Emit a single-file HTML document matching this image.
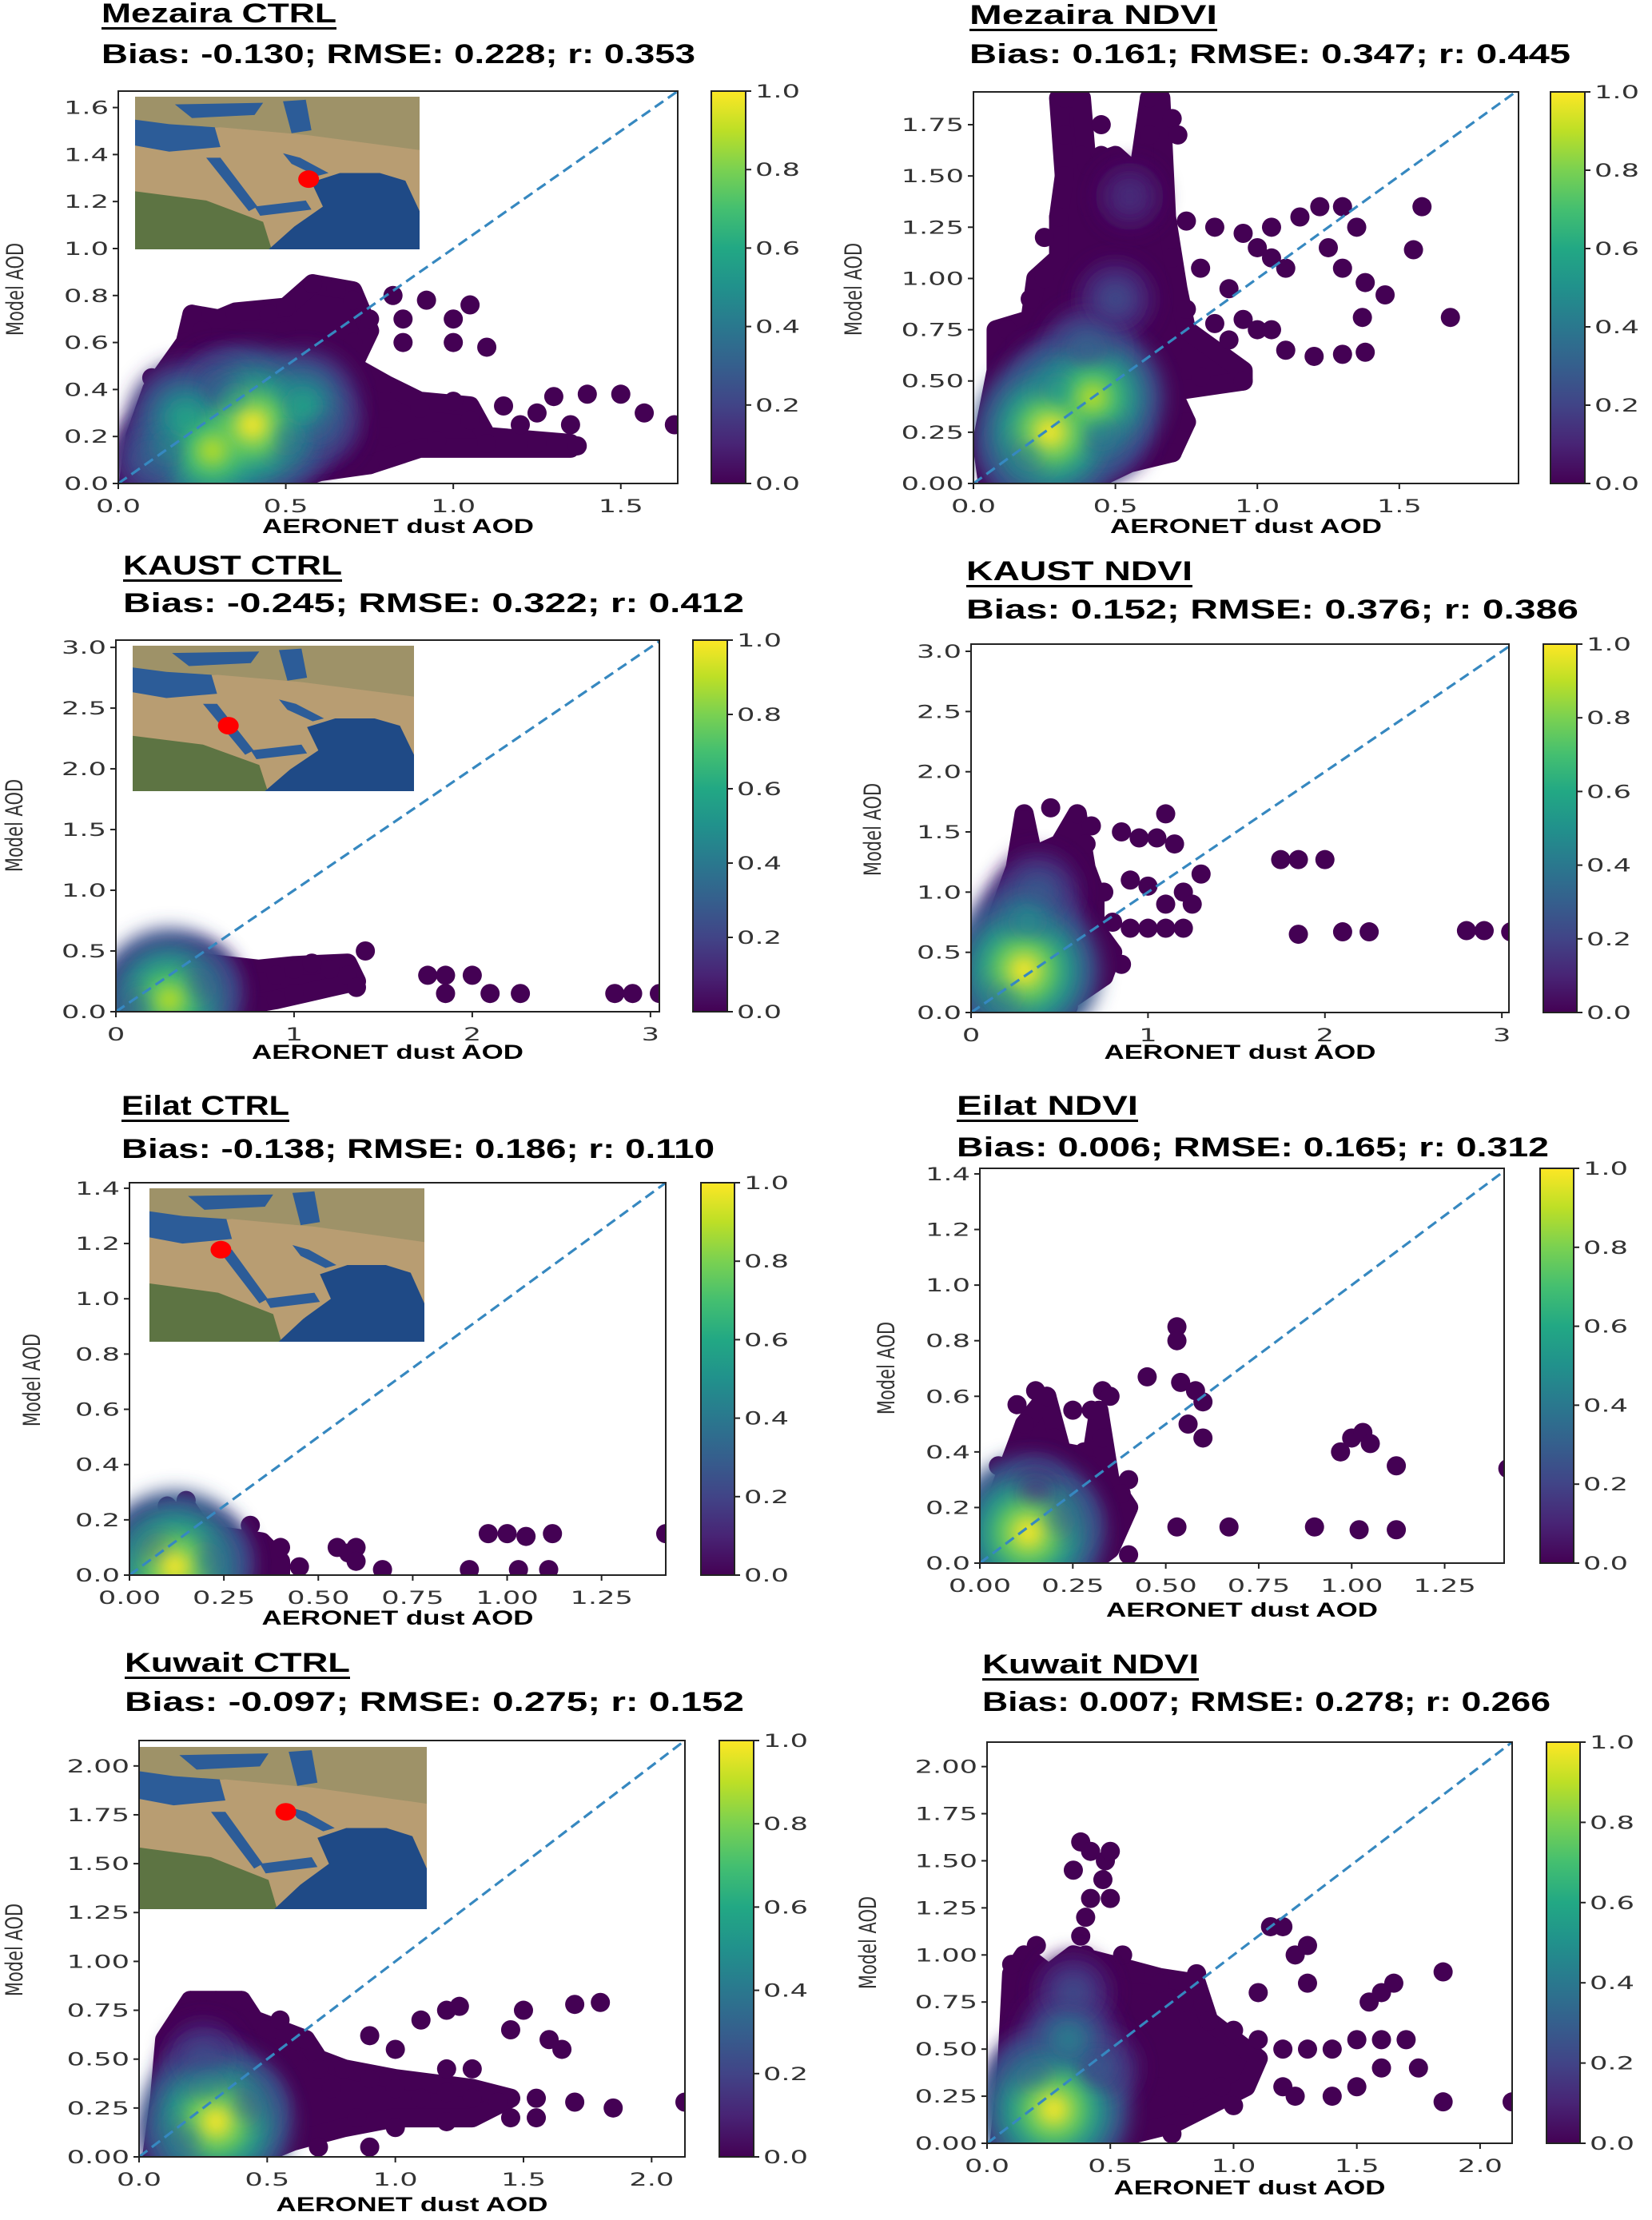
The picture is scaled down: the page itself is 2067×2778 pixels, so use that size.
<!DOCTYPE html>
<html><head><meta charset="utf-8"><title>AOD scatter comparison</title>
<style>html,body{margin:0;padding:0;background:#fff}svg{display:block}</style></head>
<body>
<svg id="fig" xmlns="http://www.w3.org/2000/svg" width="2067" height="2778" viewBox="0 0 2067 2778">
<defs>
<linearGradient id="vir" x1="0" y1="1" x2="0" y2="0">
<stop offset="0" stop-color="#440154"/><stop offset="0.1" stop-color="#482475"/><stop offset="0.2" stop-color="#414487"/><stop offset="0.3" stop-color="#355f8d"/><stop offset="0.4" stop-color="#2a788e"/><stop offset="0.5" stop-color="#21918c"/><stop offset="0.6" stop-color="#22a884"/><stop offset="0.7" stop-color="#44bf70"/><stop offset="0.8" stop-color="#7ad151"/><stop offset="0.9" stop-color="#bddf26"/><stop offset="1" stop-color="#fde725"/>
</linearGradient>
<filter id="blur" x="-1" y="-1" width="3" height="3"><feGaussianBlur stdDeviation="12"/></filter>
</defs>
</svg>
<script>
// ---------- data ----------
const mezCtrlX=[0.1,0.1,0.15,0.2,0.22,0.25,0.3,0.35,0.45,0.5,0.58,0.65,0.7,0.82,0.92,1.05,0.75,0.85,1.0,0.5,0.6,0.7,0.85,1.0,1.1,0.4,0.55,0.65,0.75,0.8,0.9,1.0,1.05,1.15,1.25,1.3,1.4,1.5,1.57,1.2,1.35,1.66,0.8,0.95,1.1,1.25,1.37,0.6,0.7,0.75,0.45,0.3,0.2,0.05,0.1,0.7,0.5,0.35,0.4,0.28,0.55,0.2,0.35,0.15,0.5,0.6,0.3,0.1];
const mezCtrlY=[0.35,0.45,0.5,0.6,0.72,0.65,0.55,0.72,0.72,0.75,0.85,0.83,0.78,0.8,0.78,0.76,0.7,0.7,0.7,0.65,0.6,0.6,0.6,0.6,0.58,0.55,0.5,0.45,0.45,0.35,0.32,0.35,0.27,0.33,0.3,0.37,0.38,0.38,0.3,0.25,0.25,0.25,0.2,0.18,0.17,0.17,0.16,0.1,0.12,0.08,0.05,0.02,0.03,0.1,0.2,0.25,0.45,0.4,0.25,0.14,0.33,0.28,0.35,0.15,0.2,0.25,0.4,0.1];
const mezCtrlD=[0,0,0,0,0,0,0,0,0,0,0,0,0,0,0,0,0,0,0,0,0,0,0,0,0,0,0,0,0,0,0,0,0,0,0,0,0,0,0,0,0,0,0,0,0,0,0,0,0,0,0,0,0,0,0,0,0,0,1.0,0.9,0.6,0.6,0.5,0.45,0.45,0.3,0.3,0.3];
const mezCtrlHullX=[0.03,0.05,0.1,0.2,0.22,0.3,0.35,0.5,0.58,0.7,0.75,0.7,0.8,0.9,1.05,1.1,1.35,1.35,0.9,0.75,0.6,0.5];
const mezCtrlHullY=[0.0,0.2,0.4,0.6,0.72,0.7,0.73,0.75,0.85,0.82,0.65,0.5,0.42,0.35,0.33,0.2,0.17,0.15,0.15,0.08,0.05,0.0];

const mezNdviX=[0.1,0.1,0.12,0.08,0.15,0.2,0.25,0.25,0.3,0.32,0.32,0.32,0.38,0.45,0.45,0.55,0.62,0.62,0.6,0.7,0.72,0.65,0.75,0.85,0.95,1.0,1.05,1.1,0.6,0.7,0.8,0.9,0.75,0.85,0.95,1.0,1.05,0.9,1.1,1.2,1.3,1.38,0.7,0.8,0.95,0.7,0.75,0.65,0.7,0.35,0.2,1.05,1.15,1.22,1.3,1.35,1.25,1.3,1.38,1.45,1.55,1.58,1.37,1.68,0.5,0.4,0.2,0.7,0.27,0.42,0.3,0.4,0.5,0.55,0.2,0.45];
const mezNdviY=[0.3,0.55,0.75,0.15,0.7,0.9,1.0,1.2,1.3,1.5,1.7,1.88,1.6,1.75,1.6,1.45,1.88,1.7,1.5,1.78,1.7,1.3,1.28,1.25,1.22,1.15,1.1,1.05,1.2,1.1,1.05,0.95,0.85,0.78,0.8,0.75,0.75,0.7,0.65,0.62,0.63,0.64,0.55,0.52,0.5,0.4,0.3,0.2,0.15,0.05,0.03,1.25,1.3,1.35,1.35,1.25,1.15,1.05,0.98,0.92,1.14,1.35,0.81,0.81,1.55,1.35,0.4,0.65,0.25,0.42,0.45,0.65,0.9,1.4,0.15,0.25];
const mezNdviD=[0,0,0,0,0,0,0,0,0,0,0,0,0,0,0,0,0,0,0,0,0,0,0,0,0,0,0,0,0,0,0,0,0,0,0,0,0,0,0,0,0,0,0,0,0,0,0,0,0,0,0,0,0,0,0,0,0,0,0,0,0,0,0,0,0,0,0,0,1.0,0.9,0.55,0.35,0.25,0.15,0.45,0.45];
const mezNdviHullX=[0.05,0.03,0.08,0.08,0.2,0.22,0.3,0.3,0.32,0.3,0.38,0.4,0.5,0.58,0.62,0.66,0.68,0.72,0.75,0.95,0.95,0.7,0.75,0.7,0.55,0.4];
const mezNdviHullY=[0.0,0.2,0.55,0.75,0.8,1.0,1.1,1.3,1.5,1.88,1.88,1.55,1.6,1.5,1.88,1.88,1.3,0.95,0.75,0.55,0.5,0.45,0.3,0.15,0.1,0.0];

const kauCtrlX=[0.2,0.3,0.5,0.6,0.7,0.8,0.9,1.0,1.1,1.2,1.3,1.4,1.35,1.0,0.9,0.8,0.6,1.75,1.85,2.0,1.85,2.1,2.27,2.8,2.9,3.05,0.3,0.45,0.15];
const kauCtrlY=[0.3,0.35,0.4,0.3,0.3,0.25,0.3,0.35,0.4,0.35,0.3,0.5,0.2,0.15,0.1,0.05,0.05,0.3,0.3,0.3,0.15,0.15,0.15,0.15,0.15,0.15,0.1,0.2,0.05];
const kauCtrlD=[0,0,0,0,0,0,0,0,0,0,0,0,0,0,0,0,0,0,0,0,0,0,0,0,0,0,0.9,0.35,0.35];
const kauCtrlHullX=[0.0,0.1,0.25,0.5,0.8,1.0,1.3,1.35,1.2,0.9,0.7,0.5];
const kauCtrlHullY=[0.0,0.15,0.35,0.4,0.35,0.38,0.4,0.25,0.2,0.1,0.05,0.0];

const kauNdviX=[0.1,0.2,0.3,0.3,0.25,0.45,0.5,0.55,0.6,0.68,0.65,0.75,0.8,0.9,1.0,1.1,1.2,0.85,0.95,1.05,1.15,1.1,0.9,1.0,1.1,1.2,1.3,1.25,0.85,0.75,0.6,0.55,1.75,1.85,2.0,1.85,2.1,2.25,2.8,2.9,3.05,0.45,0.3,0.32,0.38,0.2];
const kauNdviY=[0.6,1.0,1.6,1.3,1.2,1.2,1.0,1.3,1.65,1.55,1.4,1.0,0.75,0.7,0.7,0.7,0.7,1.5,1.45,1.45,1.4,1.65,1.1,1.05,0.9,1.0,1.15,0.9,0.4,0.3,0.15,0.05,1.27,1.27,1.27,0.65,0.67,0.67,0.68,0.68,0.67,1.7,0.35,0.75,1.0,0.15];
const kauNdviD=[0,0,0,0,0,0,0,0,0,0,0,0,0,0,0,0,0,0,0,0,0,0,0,0,0,0,0,0,0,0,0,0,0,0,0,0,0,0,0,0,0,0,1.0,0.5,0.3,0.45];
const kauNdviHullX=[0.0,0.05,0.15,0.25,0.3,0.35,0.5,0.6,0.65,0.7,0.7,0.8,0.75,0.6,0.5,0.3];
const kauNdviHullY=[0.0,0.4,0.8,1.2,1.65,1.3,1.4,1.65,1.2,1.0,0.7,0.5,0.3,0.15,0.05,0.0];

const eilCtrlX=[0.05,0.1,0.15,0.13,0.18,0.2,0.25,0.32,0.3,0.35,0.4,0.45,0.55,0.58,0.6,0.6,0.67,0.9,1.03,1.11,0.95,1.0,1.05,1.12,1.42,0.3,0.05,0.12,0.2,0.08];
const eilCtrlY=[0.18,0.25,0.27,0.2,0.18,0.13,0.13,0.18,0.08,0.05,0.1,0.03,0.1,0.08,0.1,0.05,0.02,0.02,0.02,0.02,0.15,0.15,0.14,0.15,0.15,0.01,0.05,0.03,0.05,0.08];
const eilCtrlD=[0,0,0,0,0,0,0,0,0,0,0,0,0,0,0,0,0,0,0,0,0,0,0,0,0,0,0,1.0,0.4,0.3];
const eilCtrlHullX=[0.0,0.05,0.1,0.15,0.2,0.35,0.4,0.4];
const eilCtrlHullY=[0.0,0.1,0.2,0.25,0.15,0.12,0.05,0.0];

const eilNdviX=[0.05,0.1,0.12,0.15,0.18,0.2,0.25,0.3,0.33,0.35,0.28,0.3,0.33,0.4,0.38,0.35,0.45,0.53,0.53,0.54,0.58,0.6,0.56,0.6,0.97,1.0,1.03,1.05,1.12,1.42,0.53,0.67,0.9,1.02,1.12,0.4,0.35,0.05,0.13,0.2,0.15];
const eilNdviY=[0.35,0.57,0.5,0.62,0.6,0.45,0.55,0.55,0.62,0.6,0.4,0.35,0.45,0.3,0.25,0.2,0.67,0.85,0.8,0.65,0.62,0.58,0.5,0.45,0.4,0.45,0.47,0.43,0.35,0.34,0.13,0.13,0.13,0.12,0.12,0.03,0.08,0.15,0.11,0.15,0.25];
const eilNdviD=[0,0,0,0,0,0,0,0,0,0,0,0,0,0,0,0,0,0,0,0,0,0,0,0,0,0,0,0,0,0,0,0,0,0,0,0,0,0,1.0,0.35,0.2];
const eilNdviHullX=[0.0,0.05,0.12,0.18,0.22,0.3,0.32,0.35,0.4,0.35,0.3];
const eilNdviHullY=[0.0,0.25,0.5,0.6,0.4,0.38,0.55,0.3,0.2,0.05,0.0];

const kuwCtrlX=[0.12,0.15,0.2,0.3,0.4,0.45,0.5,0.55,0.65,0.6,0.7,0.8,0.75,0.9,1.0,1.1,1.2,1.3,1.4,1.55,1.7,1.85,2.13,1.0,1.1,1.2,1.25,1.45,1.6,1.65,1.5,1.7,1.8,0.9,0.85,1.0,1.2,1.45,1.55,1.2,1.3,0.7,0.9,0.3,0.1,0.1,0.55,0.6,0.5,0.2,0.3,0.27,0.25,0.4,0.2];
const kuwCtrlY=[0.6,0.7,0.8,0.8,0.8,0.7,0.65,0.7,0.6,0.5,0.45,0.45,0.35,0.4,0.35,0.3,0.33,0.3,0.28,0.3,0.28,0.25,0.28,0.55,0.7,0.75,0.77,0.65,0.6,0.55,0.75,0.78,0.79,0.62,0.2,0.15,0.18,0.2,0.2,0.45,0.45,0.05,0.05,0.0,0.3,0.45,0.2,0.3,0.05,0.0,0.18,0.35,0.5,0.25,0.1];
const kuwCtrlD=[0,0,0,0,0,0,0,0,0,0,0,0,0,0,0,0,0,0,0,0,0,0,0,0,0,0,0,0,0,0,0,0,0,0,0,0,0,0,0,0,0,0,0,0,0,0,0,0,0,0,1.0,0.45,0.25,0.35,0.4];
const kuwCtrlHullX=[0.05,0.08,0.1,0.2,0.4,0.45,0.55,0.65,0.7,0.8,1.0,1.3,1.45,1.3,1.0,0.8,0.6,0.45];
const kuwCtrlHullY=[0.0,0.3,0.6,0.8,0.8,0.7,0.65,0.6,0.5,0.45,0.4,0.35,0.3,0.2,0.2,0.15,0.08,0.0];

const kuwNdviX=[0.1,0.1,0.1,0.1,0.15,0.2,0.3,0.4,0.5,0.6,0.7,0.8,0.85,0.9,1.0,1.1,1.2,1.3,1.4,1.5,1.6,1.7,1.75,1.6,1.5,1.4,1.55,1.6,1.65,1.85,1.15,1.2,1.25,1.3,1.3,1.1,0.95,1.0,1.2,1.25,1.85,2.13,0.7,0.8,0.6,0.75,0.4,0.35,0.38,0.42,0.48,0.5,0.47,0.42,0.4,0.38,0.5,0.55,0.27,0.33,0.35,0.45,0.2];
const kuwNdviY=[0.95,0.7,0.5,0.3,0.1,1.05,0.95,1.0,0.95,0.9,0.85,0.75,0.9,0.65,0.6,0.55,0.5,0.5,0.5,0.55,0.55,0.55,0.4,0.4,0.3,0.25,0.75,0.8,0.85,0.91,1.15,1.15,1.0,1.05,0.85,0.8,0.3,0.2,0.3,0.25,0.22,0.22,0.3,0.2,0.1,0.05,0.05,1.45,1.6,1.55,1.5,1.55,1.4,1.3,1.2,1.1,1.3,1.0,0.18,0.55,0.8,0.4,0.35];
const kuwNdviD=[0,0,0,0,0,0,0,0,0,0,0,0,0,0,0,0,0,0,0,0,0,0,0,0,0,0,0,0,0,0,0,0,0,0,0,0,0,0,0,0,0,0,0,0,0,0,0,0,0,0,0,0,0,0,0,0,0,0,1.0,0.45,0.25,0.3,0.4];
const kuwNdviHullX=[0.05,0.08,0.1,0.15,0.25,0.35,0.5,0.7,0.85,0.9,1.0,1.1,1.05,0.9,0.75,0.5,0.3];
const kuwNdviHullY=[0.0,0.4,0.9,1.0,0.9,1.0,0.95,0.88,0.85,0.65,0.55,0.45,0.3,0.2,0.1,0.02,0.0];

const ticks1dp8=["0.0","0.2","0.4","0.6","0.8","1.0","1.2","1.4","1.6"];
const ticksX05=["0.0","0.5","1.0","1.5"];
const ticksY025to175=["0.00","0.25","0.50","0.75","1.00","1.25","1.50","1.75"];
const ticksKx=["0","1","2","3"];
const ticksKy=["0.0","0.5","1.0","1.5","2.0","2.5","3.0"];
const ticksEx=["0.00","0.25","0.50","0.75","1.00","1.25"];
const ticksEy=["0.0","0.2","0.4","0.6","0.8","1.0","1.2","1.4"];
const ticksWx=["0.0","0.5","1.0","1.5","2.0"];
const ticksWy=["0.00","0.25","0.50","0.75","1.00","1.25","1.50","1.75","2.00"];
const cbTicks=["0.0","0.2","0.4","0.6","0.8","1.0"];

// ---------- layout ----------
const panels=[
 {id:'mezaira-ctrl',t:'Mezaira CTRL',s:'Bias: -0.130; RMSE: 0.228; r: 0.353',ax:[148,114,848,605],cb:[890,933],tx:127,tcy:16,tw:294,scy:67,sw:743,xl:658,yl:[21,362],lim:[1.67,1.67],X:mezCtrlX,Y:mezCtrlY,D:mezCtrlD,HX:mezCtrlHullX,HY:mezCtrlHullY,xt:ticksX05,yt:ticks1dp8,inset:[169,121,525,312],dot:[0.61,0.54]},
 {id:'mezaira-ndvi',t:'Mezaira NDVI',s:'Bias: 0.161; RMSE: 0.347; r: 0.445',ax:[1218,115,1900,605],cb:[1940,1983],tx:1213,tcy:18,tw:310,scy:67,sw:752,xl:658,yl:[1070,362],lim:[1.92,1.91],X:mezNdviX,Y:mezNdviY,D:mezNdviD,HX:mezNdviHullX,HY:mezNdviHullY,xt:ticksX05,yt:ticksY025to175},
 {id:'kaust-ctrl',t:'KAUST CTRL',s:'Bias: -0.245; RMSE: 0.322; r: 0.412',ax:[145,801,825,1266],cb:[867,910],tx:154,tcy:707,tw:274,scy:754,sw:777,xl:1316,yl:[20,1033],lim:[3.05,3.06],X:kauCtrlX,Y:kauCtrlY,D:kauCtrlD,HX:kauCtrlHullX,HY:kauCtrlHullY,xt:ticksKx,yt:ticksKy,inset:[166,808,518,990],dot:[0.34,0.55]},
 {id:'kaust-ndvi',t:'KAUST NDVI',s:'Bias: 0.152; RMSE: 0.376; r: 0.386',ax:[1215,806,1888,1267],cb:[1931,1973],tx:1209,tcy:714,tw:283,scy:762,sw:766,xl:1316,yl:[1094,1038],lim:[3.04,3.06],X:kauNdviX,Y:kauNdviY,D:kauNdviD,HX:kauNdviHullX,HY:kauNdviHullY,xt:ticksKx,yt:ticksKy},
 {id:'eilat-ctrl',t:'Eilat CTRL',s:'Bias: -0.138; RMSE: 0.186; r: 0.110',ax:[162,1480,833,1971],cb:[877,919],tx:152,tcy:1383,tw:210,scy:1437,sw:742,xl:2024,yl:[42,1727],lim:[1.42,1.42],X:eilCtrlX,Y:eilCtrlY,D:eilCtrlD,HX:eilCtrlHullX,HY:eilCtrlHullY,xt:ticksEx,yt:ticksEy,inset:[187,1487,531,1679],dot:[0.26,0.40]},
 {id:'eilat-ndvi',t:'Eilat NDVI',s:'Bias: 0.006; RMSE: 0.165; r: 0.312',ax:[1226,1462,1882,1956],cb:[1927,1969],tx:1197,tcy:1383,tw:227,scy:1435,sw:741,xl:2014,yl:[1111,1712],lim:[1.41,1.42],X:eilNdviX,Y:eilNdviY,D:eilNdviD,HX:eilNdviHullX,HY:eilNdviHullY,xt:ticksEx,yt:ticksEy},
 {id:'kuwait-ctrl',t:'Kuwait CTRL',s:'Bias: -0.097; RMSE: 0.275; r: 0.152',ax:[174,2178,857,2699],cb:[900,943],tx:156,tcy:2080,tw:282,scy:2129,sw:775,xl:2758,yl:[20,2440],lim:[2.13,2.13],X:kuwCtrlX,Y:kuwCtrlY,D:kuwCtrlD,HX:kuwCtrlHullX,HY:kuwCtrlHullY,xt:ticksWx,yt:ticksWy,inset:[174,2186,534,2389],dot:[0.51,0.40]},
 {id:'kuwait-ndvi',t:'Kuwait NDVI',s:'Bias: 0.007; RMSE: 0.278; r: 0.266',ax:[1235,2180,1892,2682],cb:[1935,1977],tx:1229,tcy:2082,tw:271,scy:2129,sw:711,xl:2737,yl:[1088,2431],lim:[2.13,2.13],X:kuwNdviX,Y:kuwNdviY,D:kuwNdviD,HX:kuwNdviHullX,HY:kuwNdviHullY,xt:ticksWx,yt:ticksWy}
];

const NS='http://www.w3.org/2000/svg';
const svg=document.getElementById('fig');
function mk(tag,attrs,parent){const e=document.createElementNS(NS,tag);for(const k in attrs)e.setAttribute(k,attrs[k]);(parent||svg).appendChild(e);return e;}
const VS=[[68,1,84],[72,36,117],[65,68,135],[53,95,141],[42,120,142],[33,145,140],[34,168,132],[68,191,112],[122,209,81],[189,223,38],[253,231,37]];
function viridis(t){t=Math.max(0,Math.min(1,t));const f=t*10,i=Math.min(9,Math.floor(f)),u=f-i;const a=VS[i],b=VS[i+1];return 'rgb('+a.map((v,k)=>Math.round(v+(b[k]-v)*u)).join(',')+')';}
const TF='"DejaVu Sans","Liberation Sans",sans-serif';
const PURPLE='#440154';

function drawMap(g,b,dot){
  const [x0,y0,x1,y1]=b,w=x1-x0,h=y1-y0;
  const P=pts=>pts.map(p=>(x0+p[0]*w).toFixed(1)+','+(y0+p[1]*h).toFixed(1)).join(' ');
  const bg=mk('rect',{x:x0,y:y0,width:w,height:h,fill:'#b89d72'},g);
  
  
  mk('polygon',{points:P([[0,0],[1,0],[1,0.35],[0.6,0.25],[0.3,0.2],[0,0.25]]),fill:'#8c8a62',opacity:0.6},g);
  mk('polygon',{points:P([[0,0.62],[0.25,0.68],[0.45,0.82],[0.48,1],[0,1]]),fill:'#5d7443'},g);
  mk('polygon',{points:P([[0,0.15],[0.12,0.18],[0.28,0.2],[0.3,0.33],[0.12,0.36],[0,0.32]]),fill:'#2c5c98'},g);
  mk('polygon',{points:P([[0.14,0.05],[0.45,0.04],[0.42,0.12],[0.2,0.14]]),fill:'#2c5c98'},g);
  mk('polygon',{points:P([[0.52,0.03],[0.6,0.02],[0.62,0.22],[0.55,0.24]]),fill:'#2c5c98'},g);
  mk('polygon',{points:P([[0.25,0.4],[0.3,0.4],[0.43,0.72],[0.4,0.75]]),fill:'#2c5c98'},g);
  mk('polygon',{points:P([[0.42,0.72],[0.6,0.68],[0.62,0.74],[0.44,0.78]]),fill:'#2c5c98'},g);
  mk('polygon',{points:P([[0.52,0.37],[0.58,0.4],[0.68,0.5],[0.64,0.52],[0.55,0.44]]),fill:'#2c5c98'},g);
  mk('polygon',{points:P([[0.62,0.56],[0.72,0.5],[0.86,0.5],[0.95,0.55],[1,0.75],[1,1],[0.47,1],[0.56,0.85],[0.66,0.72]]),fill:'#1f4a86'},g);
  const d=mk('ellipse',{cx:x0+dot[0]*w,cy:y0+dot[1]*h,rx:13,ry:11,fill:'#ff0000'},g);
  
  
}

panels.forEach(p=>{
  const g=mk('g',{});
  
  
  const [x0,y0,x1,y1]=p.ax;
  const sx=v=>x0+v/p.lim[0]*(x1-x0);
  const sy=v=>y1-v/p.lim[1]*(y1-y0);
  const t=mk('text',{x:p.tx,y:p.tcy+12,'font-family':'"Liberation Sans",sans-serif','font-weight':'bold','font-size':34,textLength:p.tw,lengthAdjust:'spacingAndGlyphs',fill:'#000'},g);
  t.textContent=p.t;
  
  
  const u=mk('rect',{x:p.tx,y:p.tcy+18,width:p.tw,height:3,fill:'#000'},g);
  
  
  const s=mk('text',{x:p.tx,y:p.scy+12,'font-family':'"Liberation Sans",sans-serif','font-weight':'bold','font-size':34,textLength:p.sw,lengthAdjust:'spacingAndGlyphs',fill:'#000'},g);
  s.textContent=p.s;
  
  
  const cp=mk('clipPath',{id:'clip-'+p.id},g);
  mk('rect',{x:x0,y:y0,width:x1-x0,height:y1-y0},cp);
  const pg=mk('g',{'clip-path':'url(#clip-'+p.id+')'},g);
  
  
  // dense low-density cloud
  const hull=mk('polygon',{points:p.HX.map((xv,i)=>sx(xv).toFixed(1)+','+sy(p.HY[i]).toFixed(1)).join(' '),fill:PURPLE,stroke:PURPLE,'stroke-width':24,'stroke-linejoin':'round'},pg);
  
  
  p.X.forEach((xv,i)=>{
    if(p.D[i]>0.05) return;
    const c=mk('circle',{cx:sx(xv),cy:sy(p.Y[i]),r:12,fill:PURPLE},pg);
    
    
  });
  // density cores: layered viridis levels
  const idx=p.X.map((_,i)=>i).filter(i=>p.D[i]>0.05).sort((a,b)=>p.D[a]-p.D[b]);
  [0.25,0.5,0.75,1].forEach(l=>{
    idx.forEach(i=>{
      const d=p.D[i],R=35+65*d;
      const c=mk('circle',{cx:sx(p.X[i]),cy:sy(p.Y[i]),r:R*(1.2-l),fill:viridis(d*l),filter:'url(#blur)'},pg);
      
      
    });
  });
  if(p.inset) drawMap(g,p.inset,p.dot);
  const m=Math.min(p.lim[0],p.lim[1]);
  const ln=mk('line',{x1:sx(0),y1:sy(0),x2:sx(m),y2:sy(m),stroke:'#3688c0','stroke-width':3.2,'stroke-dasharray':'13 7'},g);
  
  
  const fr=mk('rect',{x:x0,y:y0,width:x1-x0,height:y1-y0,fill:'none',stroke:'#222','stroke-width':2},g);
  
  
  p.xt.forEach(lbl=>{
    const X=sx(parseFloat(lbl));
    mk('line',{x1:X,y1:y1,x2:X,y2:y1+7,stroke:'#222','stroke-width':2},g);
    const tt=mk('text',{transform:`translate(${X},${y1+36}) scale(1.6,1)`,'text-anchor':'middle','font-family':TF,'font-size':22,fill:'#333'},g);
    tt.textContent=lbl;
    
    
  });
  p.yt.forEach(lbl=>{
    const Y=sy(parseFloat(lbl));
    mk('line',{x1:x0-7,y1:Y,x2:x0,y2:Y,stroke:'#222','stroke-width':2},g);
    const tt=mk('text',{transform:`translate(${x0-12},${Y+8}) scale(1.6,1)`,'text-anchor':'end','font-family':TF,'font-size':22,fill:'#333'},g);
    tt.textContent=lbl;
    
    
  });
  const xl=mk('text',{x:(x0+x1)/2,y:p.xl+9,'text-anchor':'middle','font-family':'"Liberation Sans",sans-serif','font-weight':'bold','font-size':25,textLength:340,lengthAdjust:'spacingAndGlyphs',fill:'#000'},g);
  xl.textContent='AERONET dust AOD';
  
  
  const yl=mk('text',{transform:`translate(${p.yl[0]+8},${p.yl[1]}) scale(1.4,1) rotate(-90)`,'text-anchor':'middle','font-family':TF,'font-size':21,fill:'#333'},g);
  yl.textContent='Model AOD';
  
  
  const [c0,c1]=p.cb;
  const cb=mk('rect',{x:c0,y:y0,width:c1-c0,height:y1-y0,fill:'url(#vir)',stroke:'#222','stroke-width':2},g);
  
  
  cbTicks.forEach(lbl=>{
    const Y=y1-parseFloat(lbl)*(y1-y0);
    mk('line',{x1:c1,y1:Y,x2:c1+7,y2:Y,stroke:'#222','stroke-width':2},g);
    const tt=mk('text',{transform:`translate(${c1+12},${Y+8}) scale(1.6,1)`,'font-family':TF,'font-size':22,fill:'#333'},g);
    tt.textContent=lbl;
    
    
  });
});
</script>
</body></html>
